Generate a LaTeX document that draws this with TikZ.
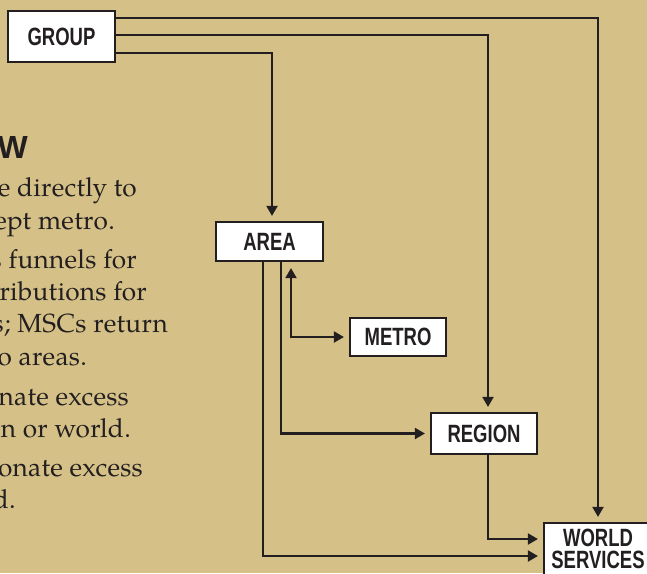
\documentclass[tikz,border=0pt]{standalone}
\usepackage{fontspec}
\usetikzlibrary{arrows.meta}
\newfontfamily\labelfont[FakeStretch=0.74]{Liberation Sans}
\newfontfamily\bodyfont[LetterSpace=1]{TeX Gyre Pagella}
\newfontfamily\headfont{Liberation Sans}
\definecolor{bg}{RGB}{213,193,135}
\definecolor{ink}{RGB}{35,31,32}
\begin{document}
\begin{tikzpicture}[x=1pt,y=-1pt,
  box/.style={draw=ink, line width=2.2pt, fill=white, inner sep=0pt, text=ink, align=center,
    font=\labelfont\bfseries\fontsize{25}{22}\selectfont},
  conn/.style={draw=ink, line width=2.1pt, -{Triangle[length=10pt,width=11pt]}, shorten >=5pt},
  body/.style={anchor=base east, inner sep=0pt, text=ink, font=\bodyfont\fontsize{26.2}{30}\selectfont}]
\useasboundingbox (0,0) rectangle (647,573);
\fill[bg] (0,0) rectangle (647,573);

\node[box, minimum width=107pt, minimum height=51pt] (group) at (61.5,36.5) {GROUP};
\node[box, minimum width=107pt, minimum height=39pt] (area) at (269.5,241.5) {AREA};
\node[box, minimum width=96pt, minimum height=38pt] (metro) at (398,337) {METRO};
\node[box, minimum width=106pt, minimum height=41pt] (region) at (484,433.5) {REGION};
\node[box, minimum width=108pt, minimum height=52pt] (world) at (598,549) {WORLD\\SERVICES};

\draw[conn] ([yshift=18.5pt]group.east) -| (world.north);
\draw[conn] ([yshift=1.5pt]group.east) -| ([xshift=4pt]region.north);
\draw[conn] ([yshift=-16.5pt]group.east) -| ([xshift=2.5pt]area.north);
\draw[conn] ([xshift=-6.5pt]area.south) |- ([yshift=-7pt]world.west);
\draw[conn] ([xshift=11.5pt]area.south) |- (region.west);
\draw[conn, {Triangle[length=10pt,width=11pt]}-{Triangle[length=10pt,width=11pt]}, shorten <=6pt]
  ([xshift=21.5pt]area.south) |- (metro.west);
\draw[conn] ([xshift=4pt]region.south) |- ([yshift=10pt]world.west);

\node[anchor=base east, inner sep=0pt, text=ink, font=\headfont\bfseries\fontsize{32}{32}\selectfont] (head) at (28,158) {W};
\node[body] (t1) at (137,196) {e directly to};
\node[body] (t2) at (115,229) {ept metro.};
\node[body] (t3) at (137,268) {s funnels for};
\node[body] (t4) at (147,300) {ributions for};
\node[body] (t5) at (168,332) {s; MSCs return};
\node[body] (t6) at (87,365) {o areas.};
\node[body] (t7) at (129,405) {nate excess};
\node[body] (t8) at (131,437) {n or world.};
\node[body] (t9) at (143,476) {onate excess};
\node[body] (t10) at (16,508) {d.};
\end{tikzpicture}
\end{document}
